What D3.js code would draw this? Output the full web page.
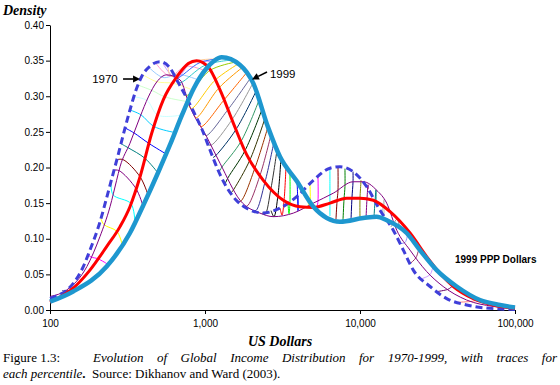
<!DOCTYPE html>
<html><head><meta charset="utf-8">
<script src="https://cdn.jsdelivr.net/npm/d3@7"></script>
<style>body{margin:0;background:#fff}svg{display:block}</style>
</head><body>
<svg id="c" width="560" height="385"></svg>
<script>
// ---------- DATA ----------
const yTicks = [0, 0.05, 0.10, 0.15, 0.20, 0.25, 0.30, 0.35, 0.40];
const xTicks = [100, 1000, 10000, 100000];

// 1970 (dashed)
const inc1970 = [100,141,164,181,210,230,251,275,300,328,359,392,442,513,594,669,753,849,957,1077,1213,1365,1585,1893,2366,3048,3908,5000,6400,7430,9060,11050,13460,16400,19030,22070,28310,36260,48750,69000,100000];
const den1970 = [0.0164,0.037,0.061,0.084,0.1235,0.1544,0.1853,0.2175,0.2498,0.2807,0.3088,0.3284,0.3424,0.3485,0.3397,0.320,0.2997,0.2772,0.2533,0.2246,0.1965,0.1740,0.1544,0.1418,0.1362,0.143,0.159,0.182,0.199,0.201,0.194,0.173,0.140,0.112,0.084,0.056,0.033,0.016,0.007,0.0023,0.0008];

// intermediate year (thin purple)
const inc1980 = [100,128,173,210,244,269,283,328,381,431,488,566,690,800,1026,1250,1683,2263,2763,3715,5000,6730,9060,10500,12820,14870,17260,21030,26920,34400,48750,72400,100000];
const den1980 = [0.019,0.028,0.061,0.103,0.145,0.182,0.201,0.234,0.271,0.299,0.320,0.330,0.323,0.285,0.243,0.206,0.154,0.136,0.131,0.136,0.150,0.164,0.180,0.180,0.168,0.150,0.112,0.084,0.054,0.033,0.014,0.005,0.002];

// intermediate year (thick red)
const inc1990 = [100,145,181,232,283,328,381,453,538,657,780,883,1050,1250,1525,1857,2378,3200,4100,5000,6400,8200,10000,12190,15630,21030,26920,32800,40000,53800,72400,100000];
const den1990 = [0.011,0.033,0.056,0.089,0.117,0.145,0.187,0.248,0.295,0.327,0.346,0.350,0.341,0.309,0.262,0.218,0.182,0.154,0.145,0.144,0.150,0.157,0.157,0.154,0.138,0.108,0.075,0.0515,0.033,0.016,0.007,0.0025];

// 1999 (thick blue)
const inc1999 = [100,141,232,328,400,500,594,711,849,1015,1143,1282,1683,2051,2546,3048,3908,5000,7430,10500,12820,14870,20000,24370,31240,42060,59400,80000,100000];
const den1999 = [0.0117,0.026,0.061,0.108,0.147,0.1937,0.2316,0.2737,0.3116,0.3382,0.3495,0.3547,0.344,0.318,0.257,0.215,0.181,0.145,0.124,0.129,0.131,0.126,0.108,0.084,0.056,0.033,0.014,0.007,0.0035];

// percentile traces: income of the percentile in [1970, 1980, 1990, 1999]
const traceIncomes = [
  [120,123,131,141],[176,184,204,237],[213,223,270,292],[248,255,333,353],[259,279,359,398],
  [270,296,381,429],[287,319,410,497],[305,348,435,561],[328,386,469,640],[348,422,497,711],
  [370,455,552,776],[398,490,622,837],[435,536,679,914],[483,594,753,1000],[536,650,824,1127],
  [578,603,861,1213],[622,650,929,1327],[669,700,1000,1429],[721,753,1077,1538],[776,812,1161,1633],
  [837,875,1231,1734],[901,942,1327,1841],[970,1015,1406,1951],[1045,1093,1493,2040],[1127,1178,1585,2133],
  [1231,1288,1708,2230],[1345,1406,1811,2333],[1472,1538,1951,2438],[1633,1708,2104,2547],[1811,1893,2265,2667],
  [2040,2133,2438,2786],[2333,2438,2667,2917],[2667,2786,2958,3090],
  [3048,3140,3236,3333],[3428,3483,3532,3532],[3981,3981,3981,3926],[4757,4757,4688,4624],[5358,5358,5284,5200],
  [6397,6397,6397,6397],[7211,7211,7112,6998],[7998,7998,7889,7762],[9016,9016,8872,8750],[10140,10140,10000,10000],
  [11270,11270,11090,10940],[12680,12680,12500,12310],[14280,14280,14070,13860],
  [15850,16570,17340,18110],[18110,19500,20700,21630],[21030,22960,24380,25470],[25120,28310,30000,31410],
  [31410,36980,39810,42880],[42880,52840,57710,63100]
];

const yAxisTitle = "Density";
const xAxisTitle = "US Dollars";
const captionFig = "Figure 1.3:";
const captionLine1 = "Evolution of Global Income Distribution for 1970-1999, with traces for";
const captionLine2a = "each percentile";
const captionLine2b = "Source: Dikhanov and Ward (2003).";
const unitNote = "1999 PPP Dollars";
// annotation anchors (data units)
const label1970 = {text:"1970", at:[187,0.3186], from:[296,0.3242], to:[381,0.3242]};
const label1999 = {text:"1999", at:[2624,0.3256], from:[2512,0.334], to:[2009,0.3235]};
const noteAt = [41000,0.066];

// ---------- STYLE ----------
const palette = ["#000080","#FF00FF","#FFFF00","#00FFFF","#800080","#800000","#008080","#0000FF",
 "#00CCFF","#CCFFFF","#CCFFCC","#FFFF99","#99CCFF","#FF99CC","#CC99FF","#FFCC99","#3366FF","#33CCCC",
 "#99CC00","#FFCC00","#FF9900","#FF6600","#666699","#969696","#003366","#339966","#003300","#333300",
 "#993300","#993366","#333399","#333333","#000000","#FF0000","#00FF00","#0000FF","#FFFF00","#FF00FF",
 "#00FFFF","#800000","#008000","#000080","#808000","#800080","#008080","#C0C0C0","#808080","#9999FF",
 "#993366","#CC99FF","#660066","#FF8080"];

const svg = d3.select("#c");
const x = d3.scaleLog().domain([100,100000]).range([50,515]);
const y = d3.scaleLinear().domain([0,0.4]).range([310,25]);

const curves = [
  {inc:inc1970, den:den1970},
  {inc:inc1980, den:den1980},
  {inc:inc1990, den:den1990},
  {inc:inc1999, den:den1999}
];
curves.forEach(c => c.pts = c.inc.map((v,i)=>[v,c.den[i]]));

function densityAt(c, v){
  const lv = Math.log10(v), a = c.inc;
  if (v <= a[0]) return c.den[0];
  for (let i=0;i<a.length-1;i++){
    const l0=Math.log10(a[i]), l1=Math.log10(a[i+1]);
    if (lv>=l0 && lv<=l1){ const t=(lv-l0)/(l1-l0); return c.den[i]+t*(c.den[i+1]-c.den[i]); }
  }
  return c.den[c.den.length-1];
}

// axes
const gy = svg.append("g").attr("transform","translate(50,0)")
  .call(d3.axisLeft(y).tickValues(yTicks).tickFormat(d3.format(".2f")).tickSize(4).tickSizeOuter(0).tickPadding(2));
const gx = svg.append("g").attr("transform","translate(0,310)")
  .call(d3.axisBottom(x).tickValues(xTicks).tickFormat(d3.format(",")).tickSize(4).tickSizeOuter(0).tickPadding(6));
[gx,gy].forEach(g=>{
  g.attr("font-family","Arial, 'Liberation Sans', sans-serif").attr("font-size",10);
  g.selectAll("path,line").attr("stroke","#000").attr("stroke-width",1);
  g.selectAll("text").attr("fill","#000");
});

// traces
const traceLine = d3.line().x(d=>x(d[0])).y(d=>y(d[1])).curve(d3.curveCatmullRom.alpha(0.5));
svg.append("g").selectAll("path").data(traceIncomes).join("path")
  .attr("d", t => traceLine(t.map((v,k)=>[v, densityAt(curves[k], v)])))
  .attr("fill","none").attr("stroke",(d,i)=>palette[i%palette.length]).attr("stroke-width",1);

const curveLine = d3.line().x(d=>x(d[0])).y(d=>y(d[1])).curve(d3.curveMonotoneX);
const styles = [
  {k:1, color:"#800080", w:1},
  {k:0, color:"#3f3fd9", w:3, dash:"7,4"},
  {k:2, color:"#ff0000", w:3},
  {k:3, color:"#1e97cf", w:4.5}
];
styles.forEach(s=>{
  svg.append("path").attr("d", curveLine(curves[s.k].pts)).attr("fill","none")
    .attr("stroke", s.color).attr("stroke-width", s.w)
    .attr("stroke-dasharray", s.dash || null).attr("stroke-linejoin","round");
});

// annotations
function arrow(a){
  const x1=x(a.from[0]), y1=y(a.from[1]), x2=x(a.to[0]), y2=y(a.to[1]);
  const ang=Math.atan2(y2-y1,x2-x1), L=7, W=3.5;
  const bx=x2-L*Math.cos(ang), by=y2-L*Math.sin(ang);
  svg.append("line").attr("x1",x1).attr("y1",y1).attr("x2",bx).attr("y2",by).attr("stroke","#000").attr("stroke-width",1.6);
  const px=-Math.sin(ang), py=Math.cos(ang);
  svg.append("path").attr("d",`M${x2},${y2}L${bx+px*W},${by+py*W}L${bx-px*W},${by-py*W}Z`).attr("fill","#000");
  svg.append("text").attr("x",x(a.at[0])).attr("y",y(a.at[1])).attr("font-family","Arial, 'Liberation Sans', sans-serif")
    .attr("font-size",11.5).text(a.text);
}
arrow(label1970); arrow(label1999);

svg.append("text").attr("x",x(noteAt[0])).attr("y",y(noteAt[1])).attr("font-family","Arial, 'Liberation Sans', sans-serif")
  .attr("font-size",10).attr("font-weight","bold").text(unitNote);

// titles
const serif = "'Liberation Serif','Times New Roman',serif";
svg.append("text").attr("x",3).attr("y",15).attr("font-family",serif).attr("font-size",14)
  .attr("font-weight","bold").attr("font-style","italic").text(yAxisTitle);
svg.append("text").attr("x",280).attr("y",346).attr("text-anchor","middle").attr("font-family",serif).attr("font-size",14)
  .attr("font-weight","bold").attr("font-style","italic").text(xAxisTitle);

// caption
const cap = svg.append("g").attr("font-family",serif).attr("font-size",13).attr("fill","#000");
cap.append("text").attr("x",3).attr("y",362).text(captionFig);
const t1 = cap.append("text").attr("x",93).attr("y",362).attr("font-style","italic").text(captionLine1);
const w1 = t1.node().getComputedTextLength();
const nsp = (captionLine1.match(/ /g)||[]).length;
t1.attr("word-spacing", Math.max(0,(557-93-w1)/nsp));
const t2 = cap.append("text").attr("x",3).attr("y",378);
t2.append("tspan").attr("font-style","italic").text(captionLine2a);
t2.append("tspan").attr("font-weight","bold").text(".");
t2.append("tspan").text("\u00a0\u00a0" + captionLine2b);
</script>
</body></html>
